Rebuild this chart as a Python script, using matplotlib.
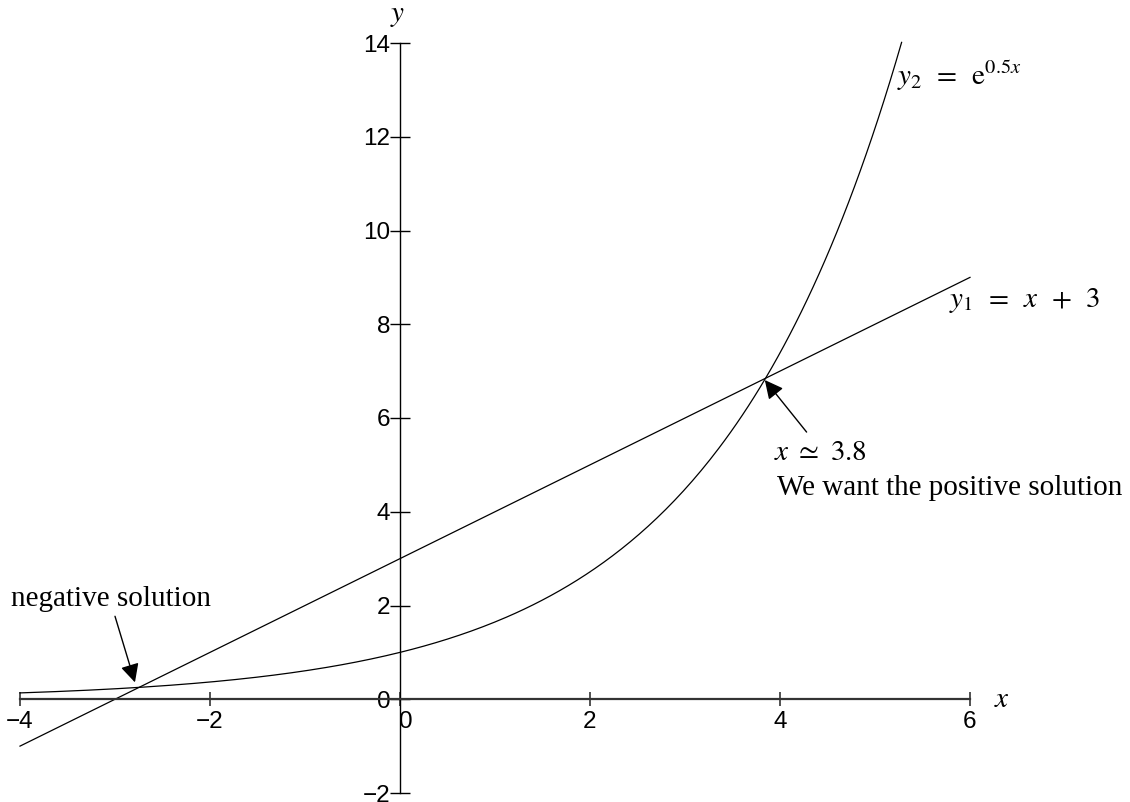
import numpy as np
import matplotlib.pyplot as plt
import matplotlib.transforms as mtransforms

plt.rcParams['mathtext.fontset'] = 'stix'

# functions shown on the chart
line_slope, line_icept = 1.0, 3.0      # y1 = x + 3
exp_rate = 0.5                          # y2 = e^(0.5x)
x_range = [-4, 6]
exp_x_end = 5.28                        # curve leaves the top of the frame

xticks = [-4, -2, 0, 2, 4, 6]
yticks = [-2, 0, 2, 4, 6, 8, 10, 12, 14]

# intersection points
neg_sol = [-2.82, 0.24]
pos_sol = [3.83, 6.83]

fig = plt.figure(figsize=(11.3, 8.02), dpi=100)
ax = fig.add_axes([20 / 1130, 9 / 802, 950 / 1130, 750 / 802])
ax.set_xlim(-4, 6)
ax.set_ylim(-2, 14)

xl = np.linspace(x_range[0], x_range[1], 50)
ax.plot(xl, line_slope * xl + line_icept, color='black', lw=0.9, clip_on=False)
xe = np.linspace(x_range[0], exp_x_end, 300)
ax.plot(xe, np.exp(exp_rate * xe), color='black', lw=0.9, clip_on=False)

for s in ['top', 'right']:
    ax.spines[s].set_visible(False)
ax.spines['left'].set_position('zero')
ax.spines['bottom'].set_position('zero')
ax.spines['left'].set_linewidth(1.0)
ax.spines['bottom'].set_linewidth(1.6)
ax.spines['bottom'].set_color('#333333')

ax.set_xticks(xticks)
ax.set_yticks(yticks)
ax.set_xticklabels(['\u2212' + str(-t) if t < 0 else str(t) for t in xticks])
ax.set_yticklabels(['\u2212' + str(-t) if t < 0 else str(t) for t in yticks])
ax.tick_params(axis='x', direction='inout', length=10.5, width=1.2, pad=3,
               labelsize=17.5, color='#333333')
ax.tick_params(axis='y', direction='inout', length=14, width=1.0, pad=0,
               labelsize=17.5)
for lab in ax.get_xticklabels() + ax.get_yticklabels():
    lab.set_fontfamily('Liberation Sans')
# nudge the x-axis "0" off the vertical axis
zero_lab = ax.get_xticklabels()[2]
zero_lab.set_transform(zero_lab.get_transform() +
                       mtransforms.ScaledTranslation(6 / 100, 0, fig.dpi_scale_trans))

serif = dict(fontsize=21, color='black')
ax.text(6.25, 0.0, '$x$', ha='left', va='center', **serif)
ax.text(-0.03, 14.6, '$y$', ha='center', va='center', **serif)

ax.text(5.23, 13.3, r'$y_2\,\ =\,\ \mathrm{e}^{0.5x}$', ha='left', va='center', **serif)
ax.text(5.78, 8.5, r'$y_1\,\ =\,\ x\,\ +\,\ 3$', ha='left', va='center', **serif)
ax.text(3.94, 5.28, r'$x\ \simeq\ 3.8$', ha='left', va='center', **serif)
ax.text(3.97, 4.5, 'We want the positive solution', ha='left', va='center',
        family='Liberation Serif', **serif)
ax.text(-4.09, 2.14, 'negative solution', ha='left', va='center',
        family='Liberation Serif', **serif)

arrow = dict(arrowstyle='-|>', mutation_scale=28, lw=1.0, color='black',
             shrinkA=0, shrinkB=0)
ax.annotate('', xy=(neg_sol[0] + 0.03, neg_sol[1] + 0.12), xytext=(-3.0, 1.77),
            arrowprops=arrow)
ax.annotate('', xy=(pos_sol[0] + 0.01, pos_sol[1] - 0.02), xytext=(4.28, 5.70),
            arrowprops=arrow)

fig.savefig('out.png', dpi=100, facecolor='white')
